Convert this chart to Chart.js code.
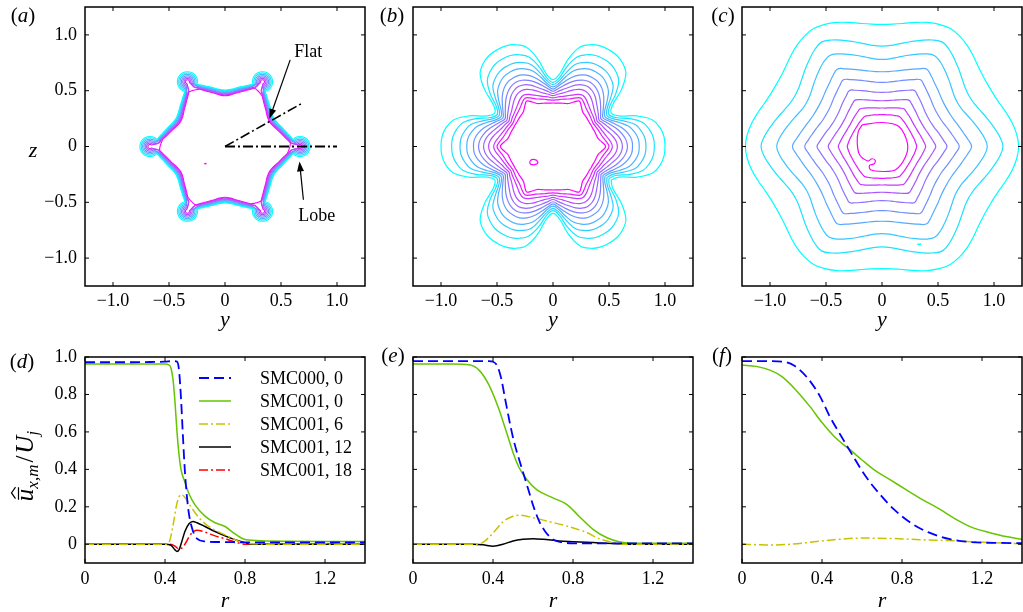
<!DOCTYPE html>
<html>
<head>
<meta charset="utf-8">
<title>SMC000 / SMC001 mean streamwise velocity</title>
<script src="https://cdn.jsdelivr.net/npm/chart.js@4.4.0/dist/chart.umd.min.js"></script>
<style>
  html, body { margin: 0; padding: 0; background: #fff; }
  body { position: relative; width: 1023px; height: 612px; overflow: hidden; }
  canvas { position: absolute; }
</style>
</head>
<body>
<canvas id="pa"></canvas>
<canvas id="pb"></canvas>
<canvas id="pc"></canvas>
<canvas id="pd"></canvas>
<canvas id="pe"></canvas>
<canvas id="pf"></canvas>
<script>
// ---- axis ticks ----
const yzTicks = [-1, -0.5, 0, 0.5, 1];
const yzTickLabels = ['\u22121.0', '\u22120.5', '0', '0.5', '1.0'];
const rTicks = [0, 0.4, 0.8, 1.2];
const rTickLabels = ['0', '0.4', '0.8', '1.2'];
const uTicks = [0, 0.2, 0.4, 0.6, 0.8, 1.0];
const uTickLabels = ['0', '0.2', '0.4', '0.6', '0.8', '1.0'];

// ---- contour plots: radii sampled from a lobe axis (0 deg) to the trough (30 deg) ----
const sectorAngles = [0, 5, 10, 15, 20, 25, 30];

// (a) x = 0: thin shear layer round the six-pointed star, outer level first
const flankAnglesA = [0, 3, 6, 9, 12, 18, 24, 30];
const flankRadiiA = [0.60, 0.585, 0.562, 0.54, 0.52, 0.49, 0.465, 0.455];
const capCentreA = 0.67;
const capRadiiA = [0.09, 0.078, 0.066, 0.054, 0.042, 0.03, 0.018, 0];
const flankOffsetsA = [0.05, 0.043, 0.036, 0.029, 0.021, 0.014, 0.007, 0];
const islandA = [[-0.185, -0.155], [-0.165, -0.152]];
const lobeRay = [[0, 0], [1.0, 0]];
const flatRay = [[0, 0], [0.70, 0.394]];

// (b) x = 6
const contoursB = [
  [1.00, 0.995, 0.97, 0.92, 0.80, 0.65, 0.60],
  [0.905, 0.90, 0.875, 0.83, 0.73, 0.615, 0.575],
  [0.83, 0.825, 0.80, 0.76, 0.67, 0.59, 0.555],
  [0.77, 0.765, 0.74, 0.70, 0.63, 0.565, 0.535],
  [0.71, 0.705, 0.68, 0.64, 0.59, 0.545, 0.515],
  [0.665, 0.655, 0.63, 0.595, 0.555, 0.52, 0.495],
  [0.62, 0.61, 0.585, 0.55, 0.52, 0.495, 0.475],
  [0.575, 0.565, 0.54, 0.51, 0.485, 0.47, 0.455],
  [0.53, 0.515, 0.49, 0.47, 0.455, 0.445, 0.435],
  [0.50, 0.48, 0.455, 0.44, 0.43, 0.42, 0.415],
  [0.47, 0.44, 0.41, 0.40, 0.395, 0.39, 0.39]
];
const islandB = [[-0.21, -0.14], [-0.19, -0.118], [-0.15, -0.122], [-0.135, -0.145],
                 [-0.165, -0.163], [-0.2, -0.158], [-0.21, -0.14]];

// (c) x = 12
const contoursC = [
  [1.22, 1.208, 1.183, 1.151, 1.12, 1.101, 1.095],
  [1.08, 1.053, 1.012, 0.972, 0.936, 0.909, 0.90],
  [0.94, 0.916, 0.879, 0.844, 0.812, 0.788, 0.78],
  [0.80, 0.768, 0.735, 0.709, 0.687, 0.674, 0.67],
  [0.69, 0.661, 0.633, 0.61, 0.59, 0.578, 0.575],
  [0.58, 0.556, 0.533, 0.514, 0.497, 0.488, 0.485],
  [0.48, 0.463, 0.445, 0.431, 0.419, 0.412, 0.41],
  [0.39, 0.379, 0.368, 0.359, 0.351, 0.346, 0.345],
  [0.31, 0.304, 0.298, 0.293, 0.288, 0.286, 0.285]
];
const innerC = [[-0.176, 0.194], [0.003, 0.215], [0.152, 0.179], [0.227, 0.03], [0.211, -0.09],
                [0.122, -0.209], [0.003, -0.224], [-0.102, -0.209], [-0.112, -0.17], [-0.07, -0.155],
                [-0.06, -0.125], [-0.09, -0.11], [-0.125, -0.13], [-0.2, -0.074], [-0.221, 0.03],
                [-0.212, 0.134], [-0.176, 0.194]];
const islandC = [[0.315, -0.876], [0.35, -0.876]];

// ---- radial profiles of u/Uj ----
const seriesLabels = ['SMC000, 0', 'SMC001, 0', 'SMC001, 6', 'SMC001, 12', 'SMC001, 18'];

// (d) x = 0
const rD000 = [0, 0.1, 0.2, 0.3, 0.4, 0.44, 0.46, 0.47, 0.48, 0.49, 0.5, 0.51, 0.52, 0.54, 0.56, 0.6, 0.7, 0.8, 1.0, 1.2, 1.4];
const uD000 = [0.972, 0.972, 0.972, 0.973, 0.975, 0.978, 0.975, 0.93, 0.78, 0.57, 0.38, 0.25, 0.16, 0.07, 0.03, 0.015, 0.012, 0.01, 0.01, 0.01, 0.01];
const rD001_0 = [0, 0.2, 0.4, 0.42, 0.43, 0.44, 0.45, 0.46, 0.47, 0.48, 0.5, 0.52, 0.55, 0.6, 0.65, 0.7, 0.75, 0.8, 0.9, 1.0, 1.2, 1.4];
const uD001_0 = [0.962, 0.962, 0.962, 0.958, 0.94, 0.88, 0.76, 0.6, 0.48, 0.4, 0.33, 0.27, 0.21, 0.15, 0.115, 0.095, 0.055, 0.025, 0.018, 0.016, 0.015, 0.015];
const rD001_6 = [0, 0.4, 0.42, 0.44, 0.46, 0.48, 0.5, 0.53, 0.56, 0.6, 0.65, 0.7, 0.75, 0.8, 1.0, 1.4];
const uD001_6 = [0, 0, 0.01, 0.1, 0.22, 0.265, 0.25, 0.2, 0.155, 0.11, 0.075, 0.05, 0.025, 0.005, 0, 0];
const rD001_12 = [0, 0.4, 0.43, 0.45, 0.46, 0.47, 0.48, 0.5, 0.52, 0.54, 0.56, 0.6, 0.65, 0.7, 0.75, 0.8, 0.85, 1.0, 1.4];
const uD001_12 = [0, 0, -0.005, -0.03, -0.038, -0.03, 0, 0.07, 0.11, 0.122, 0.115, 0.095, 0.068, 0.045, 0.025, 0.008, 0, 0, 0];
const rD001_18 = [0, 0.42, 0.45, 0.47, 0.49, 0.51, 0.53, 0.56, 0.6, 0.65, 0.7, 0.75, 0.8, 1.4];
const uD001_18 = [0, 0, -0.01, -0.025, -0.015, 0.02, 0.055, 0.075, 0.065, 0.045, 0.03, 0.012, 0, 0];

// (e) x = 6
const rE000 = [0, 0.2, 0.38, 0.4, 0.42, 0.44, 0.46, 0.48, 0.5, 0.52, 0.54, 0.56, 0.58, 0.6, 0.63, 0.66, 0.7, 0.75, 0.8, 1.0, 1.4];
const uE000 = [0.978, 0.978, 0.978, 0.975, 0.955, 0.89, 0.78, 0.67, 0.57, 0.49, 0.42, 0.35, 0.28, 0.21, 0.125, 0.07, 0.025, 0.01, 0.005, 0.005, 0.005];
const rE001_0 = [0, 0.2, 0.28, 0.33, 0.38, 0.43, 0.47, 0.5, 0.53, 0.57, 0.62, 0.7, 0.77, 0.83, 0.9, 0.97, 1.03, 1.1, 1.2, 1.4];
const uE001_0 = [0.962, 0.962, 0.958, 0.93, 0.85, 0.72, 0.59, 0.49, 0.41, 0.345, 0.29, 0.248, 0.212, 0.15, 0.08, 0.035, 0.014, 0.006, 0.005, 0.005];
const rE001_6 = [0, 0.3, 0.35, 0.4, 0.45, 0.5, 0.53, 0.6, 0.67, 0.77, 0.87, 0.93, 1.0, 1.05, 1.4];
const uE001_6 = [0, 0, 0.01, 0.06, 0.12, 0.15, 0.155, 0.142, 0.124, 0.097, 0.062, 0.03, 0.01, 0, 0];
const rE001_12 = [0, 0.3, 0.35, 0.4, 0.45, 0.5, 0.55, 0.6, 0.65, 0.73, 0.8, 0.9, 1.0, 1.07, 1.4];
const uE001_12 = [0, 0, -0.003, -0.01, 0, 0.018, 0.027, 0.03, 0.027, 0.018, 0.014, 0.009, 0.004, 0, 0];

// (f) x = 12
const rF000 = [0, 0.1, 0.2, 0.26, 0.33, 0.39, 0.44, 0.5, 0.55, 0.62, 0.69, 0.76, 0.85, 0.93, 1.04, 1.14, 1.3, 1.4];
const uF000 = [0.978, 0.978, 0.975, 0.955, 0.885, 0.79, 0.68, 0.57, 0.48, 0.36, 0.266, 0.186, 0.11, 0.065, 0.027, 0.012, 0.007, 0.006];
const rF001_0 = [0, 0.07, 0.14, 0.2, 0.27, 0.34, 0.4, 0.47, 0.54, 0.6, 0.67, 0.74, 0.82, 0.9, 0.99, 1.07, 1.15, 1.24, 1.32, 1.4];
const uF001_0 = [0.957, 0.95, 0.93, 0.895, 0.823, 0.735, 0.65, 0.566, 0.505, 0.45, 0.39, 0.345, 0.292, 0.24, 0.186, 0.133, 0.09, 0.062, 0.041, 0.027];
const rF001_6 = [0, 0.1, 0.15, 0.24, 0.32, 0.4, 0.49, 0.6, 0.74, 0.9, 1.07, 1.24, 1.4];
const uF001_6 = [0, -0.003, -0.004, 0, 0.008, 0.018, 0.027, 0.033, 0.031, 0.024, 0.018, 0.009, 0.003];

// ---------------------------------------------------------------------------
const FONT = '"Liberation Serif", "Times New Roman", Times, serif';
Chart.defaults.font.family = FONT;
Chart.defaults.color = '#000';

const lineStyles = [
  { borderColor: '#0000ff', borderDash: [10, 5], borderWidth: 1.8 },
  { borderColor: '#66c400', borderDash: [], borderWidth: 1.5 },
  { borderColor: '#c9c200', borderDash: [9, 3, 2, 3], borderWidth: 1.5 },
  { borderColor: '#000000', borderDash: [], borderWidth: 1.5 },
  { borderColor: '#ff0000', borderDash: [9, 3, 2, 3], borderWidth: 1.5 }
];

function coolColour(k, n) {
  const t = k / (n - 1);
  return `rgb(${Math.round(255 * t)}, ${Math.round(255 * (1 - t))}, 255)`;
}

function rotate([x, y], deg) {
  const a = deg * Math.PI / 180;
  return [x * Math.cos(a) - y * Math.sin(a), x * Math.sin(a) + y * Math.cos(a)];
}

// repeat one half-sector (lobe axis -> trough) round the six lobes
function sixFold(half) {
  const sector = half.slice(1).reverse().map(([x, y]) => [x, -y]).concat(half.slice(0, -1));
  const pts = [];
  for (let j = 0; j < 6; j++) sector.forEach(p => pts.push(rotate(p, 60 * j)));
  pts.push(pts[0]);
  return pts;
}

function lobedOutline(radii) {
  return sixFold(radii.map((r, i) => rotate([r, 0], sectorAngles[i])));
}

// star edge plus a rounded cap around each lobe tip
function starOutline(k) {
  const rho = capRadiiA[k], off = flankOffsetsA[k];
  const half = [];
  if (rho > 0) {
    for (let th = 0; th <= 135; th += 15) {
      const a = th * Math.PI / 180;
      half.push([capCentreA + rho * Math.cos(a), rho * Math.sin(a)]);
    }
  }
  const last = half[half.length - 1];
  const lastAng = last ? Math.atan2(last[1], last[0]) * 180 / Math.PI : -1;
  flankAnglesA.forEach((ang, i) => {
    if (ang > lastAng + 1) half.push(rotate([flankRadiiA[i] + off, 0], ang));
  });
  return sixFold(half);
}

function curve(points, colour, width, tension) {
  return {
    data: points.map(([x, y]) => ({ x, y })),
    showLine: true, fill: false, pointRadius: 0,
    borderColor: colour, borderWidth: width, tension
  };
}

function profile(r, u, idx) {
  return Object.assign({
    label: seriesLabels[idx],
    data: r.map((x, i) => ({ x, y: u[i] })),
    showLine: true, fill: false, pointRadius: 0,
    cubicInterpolationMode: 'monotone'
  }, lineStyles[idx]);
}

function axis(min, max, ticks, labels, pad, horizontal) {
  return {
    type: 'linear', min, max,
    afterBuildTicks: s => { s.ticks = ticks.map(value => ({ value })); },
    afterFit: s => { if (horizontal) s.height = 40; else s.width = 60; },
    grid: { display: false, drawTicks: false },
    border: { display: false },
    ticks: {
      display: labels !== null,
      padding: pad, color: '#000', autoSkip: false, maxRotation: 0, minRotation: 0,
      font: { family: FONT, size: 18 },
      callback: (v, i) => (labels ? labels[i] : '')
    }
  };
}

function drawItalicMix(ctx, parts, x, y, size) {
  parts.forEach(([txt, italic]) => {
    ctx.font = `${italic ? 'italic ' : ''}${size}px ${FONT}`;
    ctx.fillText(txt, x, y);
    x += ctx.measureText(txt).width;
  });
}

function textWidth(ctx, parts, size) {
  return parts.reduce((w, [txt, italic]) => {
    ctx.font = `${italic ? 'italic ' : ''}${size}px ${FONT}`;
    return w + ctx.measureText(txt).width;
  }, 0);
}

// hat-bar u_{x,m} / U_j, written bottom to top
function drawVelocityLabel(ctx, bx, cy) {
  ctx.save();
  ctx.translate(bx, cy);
  ctx.rotate(-Math.PI / 2);
  const parts = [
    { t: 'u', f: `italic 25px ${FONT}`, dy: 0, gap: 0 },
    { t: 'x,m', f: `italic 17px ${FONT}`, dy: 5, gap: 2 },
    { t: '/', f: `25px ${FONT}`, dy: 0, gap: 2 },
    { t: 'U', f: `italic 25px ${FONT}`, dy: 0, gap: 0 },
    { t: 'j', f: `italic 17px ${FONT}`, dy: 5, gap: 0 }
  ];
  let w = 0;
  parts.forEach(p => { ctx.font = p.f; p.w = ctx.measureText(p.t).width; w += p.w + p.gap; });
  let x = -w / 2;
  ctx.textBaseline = 'alphabetic';
  ctx.textAlign = 'left';
  ctx.fillStyle = '#000';
  ctx.strokeStyle = '#000';
  parts.forEach((p, i) => {
    ctx.font = p.f;
    ctx.fillText(p.t, x, p.dy);
    if (i === 0) {
      ctx.lineWidth = 1.2;
      ctx.beginPath();
      ctx.moveTo(x + 1.5, -14.5); ctx.lineTo(x + p.w + 1.5, -14.5);
      ctx.moveTo(x + 2.5, -17.5); ctx.lineTo(x + p.w / 2 + 2, -21.5); ctx.lineTo(x + p.w + 1.5, -17.5);
      ctx.stroke();
    }
    x += p.w + p.gap;
  });
  ctx.restore();
}

function drawArrow(ctx, x0, y0, x1, y1) {
  const a = Math.atan2(y1 - y0, x1 - x0);
  ctx.beginPath();
  ctx.moveTo(x0, y0);
  ctx.lineTo(x1 - 8 * Math.cos(a), y1 - 8 * Math.sin(a));
  ctx.stroke();
  ctx.beginPath();
  ctx.moveTo(x1, y1);
  ctx.lineTo(x1 - 10 * Math.cos(a) + 3.5 * Math.sin(a), y1 - 10 * Math.sin(a) - 3.5 * Math.cos(a));
  ctx.lineTo(x1 - 10 * Math.cos(a) - 3.5 * Math.sin(a), y1 - 10 * Math.sin(a) + 3.5 * Math.cos(a));
  ctx.closePath();
  ctx.fill();
}

// frame, inward ticks on all sides, panel letter, axis titles, legend, arrows
const panelDecor = {
  id: 'panelDecor',
  afterDatasetsDraw(chart, args, o) {
    const { ctx, chartArea: a } = chart;
    const xs = chart.scales.x, ys = chart.scales.y;
    const px = X => a.left + (X - o.box.l);
    const py = Y => a.top + (Y - o.box.t);
    ctx.save();
    ctx.strokeStyle = '#000';
    ctx.fillStyle = '#000';
    ctx.lineWidth = 1.5;
    ctx.strokeRect(a.left, a.top, a.right - a.left, a.bottom - a.top);
    ctx.lineWidth = 1;
    ctx.beginPath();
    xs.ticks.forEach(t => {
      const p = xs.getPixelForValue(t.value);
      ctx.moveTo(p, a.bottom); ctx.lineTo(p, a.bottom - 4);
      ctx.moveTo(p, a.top); ctx.lineTo(p, a.top + 4);
    });
    ys.ticks.forEach(t => {
      const p = ys.getPixelForValue(t.value);
      ctx.moveTo(a.left, p); ctx.lineTo(a.left + 4, p);
      ctx.moveTo(a.right, p); ctx.lineTo(a.right - 4, p);
    });
    ctx.stroke();

    // panel letter
    const lp = [['(', false], [o.letter, true], [')', false]];
    ctx.textBaseline = 'middle';
    ctx.textAlign = 'left';
    const lw = textWidth(ctx, lp, 21);
    drawItalicMix(ctx, lp, px(o.letterAt[0]) - lw / 2, py(o.letterAt[1]), 21);

    // axis titles
    ctx.textBaseline = 'alphabetic';
    ctx.textAlign = 'center';
    ctx.font = `italic 22px ${FONT}`;
    ctx.fillText(o.xTitle, (a.left + a.right) / 2, a.bottom + o.xTitleDrop);
    if (o.yTitle) ctx.fillText(o.yTitle, px(33), (a.top + a.bottom) / 2 + 10);
    if (o.velocityTitle) drawVelocityLabel(ctx, px(33), (a.top + a.bottom) / 2 + 6);

    // legend drawn from the datasets themselves
    if (o.legend) {
      ctx.font = `18px ${FONT}`;
      ctx.textAlign = 'left';
      ctx.textBaseline = 'middle';
      chart.data.datasets.forEach((ds, i) => {
        const y = a.top + 21 + 23 * i;
        ctx.save();
        ctx.strokeStyle = ds.borderColor;
        ctx.lineWidth = ds.borderWidth;
        ctx.setLineDash(ds.borderDash || []);
        ctx.beginPath();
        ctx.moveTo(a.left + 114, y); ctx.lineTo(a.left + 146, y);
        ctx.stroke();
        ctx.restore();
        ctx.fillText(ds.label, a.left + 175, y + 1);
      });
    }

    // labelled arrows in data coordinates
    (o.arrows || []).forEach(ar => {
      ctx.lineWidth = 1.2;
      drawArrow(ctx, xs.getPixelForValue(ar.from[0]), ys.getPixelForValue(ar.from[1]),
                xs.getPixelForValue(ar.to[0]), ys.getPixelForValue(ar.to[1]));
      ctx.font = `18px ${FONT}`;
      ctx.textAlign = 'center';
      ctx.textBaseline = 'middle';
      ctx.fillText(ar.text, xs.getPixelForValue(ar.at[0]), ys.getPixelForValue(ar.at[1]));
    });
    ctx.restore();
  }
};

function makePanel(id, box, datasets, scales, decor) {
  const canvas = document.getElementById(id);
  const padL = 85, padT = 30, padR = 30, padB = 60;
  canvas.width = box.w + padL + padR;
  canvas.height = box.h + padT + padB;
  canvas.style.left = (box.l - padL) + 'px';
  canvas.style.top = (box.t - padT) + 'px';
  return new Chart(canvas, {
    type: 'scatter',
    data: { datasets },
    options: {
      responsive: false, animation: false, events: [],
      layout: { padding: { left: padL - 60, top: padT, right: padR, bottom: padB - 40 } },
      plugins: {
        legend: { display: false }, tooltip: { enabled: false },
        panelDecor: Object.assign({ box }, decor)
      },
      scales
    },
    plugins: [panelDecor]
  });
}

// ---- top row: contour maps ----
const topBoxes = [
  { l: 85, t: 7, w: 280, h: 279 },
  { l: 413, t: 7, w: 280, h: 279 },
  { l: 742, t: 7, w: 280, h: 279 }
];
const botBoxes = [
  { l: 85, t: 357, w: 280, h: 206 },
  { l: 413, t: 357, w: 280, h: 206 },
  { l: 742, t: 357, w: 280, h: 206 }
];

const rayStyle = { borderDash: [10, 3, 2, 3] };
const setA = [
  Object.assign(curve(lobeRay, '#000', 1.8, 0), rayStyle),
  Object.assign(curve(flatRay, '#000', 1.6, 0), rayStyle),
  curve(islandA, coolColour(7, 8), 1.5, 0)
].concat(capRadiiA.map((_, k) => curve(starOutline(k), coolColour(k, capRadiiA.length), 1.1, 0.2)));

const setB = [curve(islandB, coolColour(10, 11), 1.2, 0.3)]
  .concat(contoursB.map((r, k) => curve(lobedOutline(r), coolColour(k, contoursB.length), 1.2, 0.4)));

const nC = contoursC.length + 1;
const setC = [curve(islandC, coolColour(0, nC), 1.5, 0), curve(innerC, coolColour(nC - 1, nC), 1.2, 0.3)]
  .concat(contoursC.map((r, k) => curve(lobedOutline(r), coolColour(k, nC), 1.2, 0.4)));

function topScales(showY) {
  return {
    x: axis(-1.25, 1.25, yzTicks, yzTickLabels, 4, true),
    y: axis(-1.25, 1.25, yzTicks, showY ? yzTickLabels : null, 8, false)
  };
}

makePanel('pa', topBoxes[0], setA, topScales(true), {
  letter: 'a', letterAt: [23, 16], xTitle: 'y', xTitleDrop: 40, yTitle: 'z',
  arrows: [
    { text: 'Flat', at: [0.743, 0.843], from: [0.582, 0.776], to: [0.397, 0.248] },
    { text: 'Lobe', at: [0.82, -0.627], from: [0.70, -0.477], to: [0.665, -0.134] }
  ]
});
makePanel('pb', topBoxes[1], setB, topScales(false), {
  letter: 'b', letterAt: [392, 16], xTitle: 'y', xTitleDrop: 40
});
makePanel('pc', topBoxes[2], setC, topScales(false), {
  letter: 'c', letterAt: [723, 16], xTitle: 'y', xTitleDrop: 40
});

// ---- bottom row: radial profiles ----
function botScales(showY) {
  return {
    x: axis(0, 1.4, rTicks, rTickLabels, 5, true),
    y: axis(-0.1, 1.0, uTicks, showY ? uTickLabels : null, 8, false)
  };
}

makePanel('pd', botBoxes[0], [
  profile(rD000, uD000, 0), profile(rD001_0, uD001_0, 1), profile(rD001_6, uD001_6, 2),
  profile(rD001_12, uD001_12, 3), profile(rD001_18, uD001_18, 4)
], botScales(true), {
  letter: 'd', letterAt: [22, 362], xTitle: 'r', xTitleDrop: 44, velocityTitle: true, legend: true
});
makePanel('pe', botBoxes[1], [
  profile(rE000, uE000, 0), profile(rE001_0, uE001_0, 1), profile(rE001_6, uE001_6, 2),
  profile(rE001_12, uE001_12, 3)
], botScales(false), {
  letter: 'e', letterAt: [393, 356], xTitle: 'r', xTitleDrop: 44
});
makePanel('pf', botBoxes[2], [
  profile(rF000, uF000, 0), profile(rF001_0, uF001_0, 1), profile(rF001_6, uF001_6, 2)
], botScales(false), {
  letter: 'f', letterAt: [722, 356], xTitle: 'r', xTitleDrop: 44
});
</script>
</body>
</html>
